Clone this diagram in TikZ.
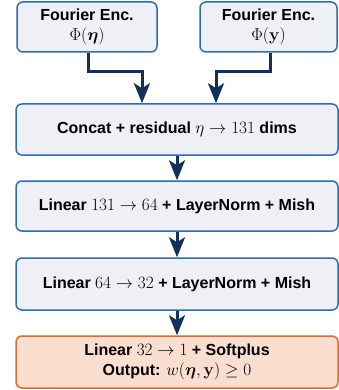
\documentclass[tikz,border=0pt]{standalone}
\usepackage[no-math]{fontspec}
\setmainfont{Liberation Sans}
\usepackage{amsmath}
\usepackage{bm}
\usetikzlibrary{arrows.meta}

\definecolor{boxfill}{HTML}{EEF0F6}
\definecolor{boxline}{HTML}{2E6DB4}
\definecolor{outfill}{HTML}{FADFD0}
\definecolor{outline}{HTML}{E06A2A}
\definecolor{arrowc}{HTML}{12305C}

\tikzset{
    layer/.style = {draw = boxline, fill = boxfill, line width = 1.5pt, rounded corners = 6pt,
                    align = center, font = \fontsize{16}{20}\selectfont\bfseries, inner sep = 0pt},
    outlayer/.style = {layer, draw = outline, fill = outfill},
    flow/.style = {draw = arrowc, line width = 3pt, -{Stealth[length = 20pt, width = 16pt, inset = 5pt]}}
}

\begin{document}
\begin{tikzpicture}[x = 1pt, y = -1pt]
                \useasboundingbox (0, 0) rectangle (339, 390);

                \node[layer, minimum width = 140pt, minimum height = 50pt](encEta) at (87, 27)
                    {Fourier Enc.\\$\Phi(\bm{\eta})$};
                \node[layer, minimum width = 137pt, minimum height = 50pt](encY) at (268.5, 27)
                    {Fourier Enc.\\$\Phi(\mathbf{y})$};

                \node[layer, minimum width = 322pt, minimum height = 51pt](concat) at (177, 129.5)
                    {Concat + residual $\eta \to 131$ dims};
                \node[layer, minimum width = 322pt, minimum height = 50pt](lin1) at (177, 206)
                    {Linear $131 \to 64$ + LayerNorm + Mish};
                \node[layer, minimum width = 322pt, minimum height = 52pt](lin2) at (177, 284)
                    {Linear $64 \to 32$ + LayerNorm + Mish};
                \node[outlayer, minimum width = 322pt, minimum height = 52pt](out) at (177, 362)
                    {Linear $32 \to 1$ + Softplus\\Output: $w(\bm{\eta}, \mathbf{y}) \geq 0$};

                \draw[flow](encEta.south -| 88, 0) |- (142, 72) -- (concat.north -| 142, 0);
                \draw[flow](encY.south -| 270, 0) |- (216, 72) -- (concat.north -| 216, 0);

                \draw[flow](concat) -- (lin1);
                \draw[flow](lin1) -- (lin2);
                \draw[flow](lin2) -- (out);
            \end{tikzpicture}
\end{document}
